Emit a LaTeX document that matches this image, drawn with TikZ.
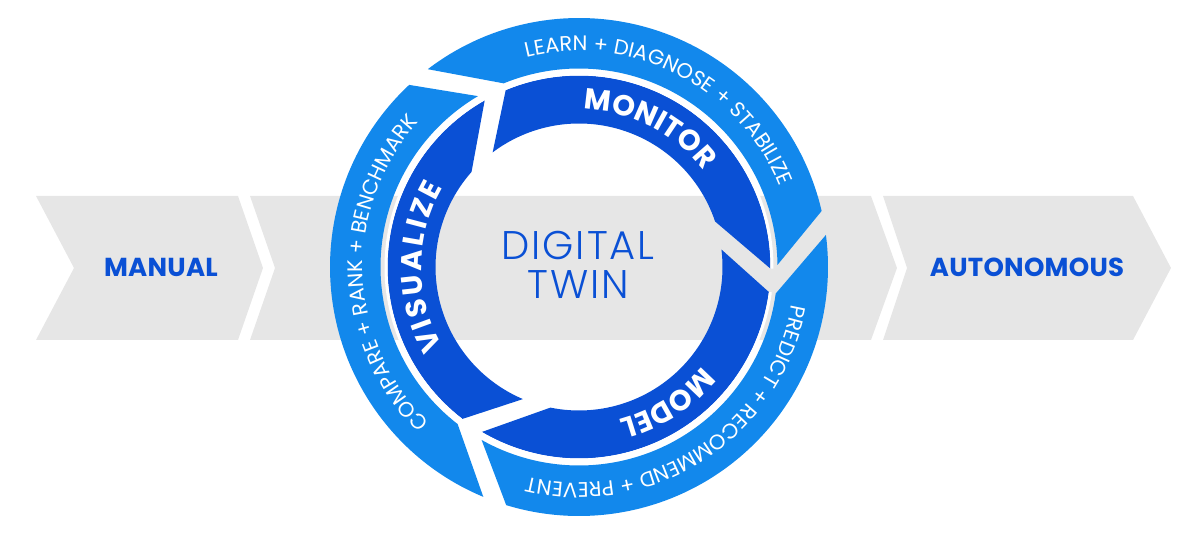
\documentclass[tikz,border=0pt]{standalone}
\usepackage{fontspec}
\setmainfont{Poppins}
\newfontfamily\twinfont[LetterSpace=5]{Poppins Light}
\newfontfamily\endfont[LetterSpace=1]{Poppins}
\usetikzlibrary{decorations.text}
\definecolor{ringlight}{HTML}{1288EC}
\definecolor{ringdark}{HTML}{0A50D5}
\definecolor{bandgray}{HTML}{E6E6E6}

\begin{document}
\begin{tikzpicture}[x=1pt,y=1pt,
    chevron/.style={fill=bandgray},
    lightband/.style={fill=ringlight},
    darkband/.style={fill=ringdark},
    outerlabel/.style={decorate,decoration={text along path,text align=center,text color=white,
        text={|\fontsize{21}{21}\selectfont|#1}}},
    innerlabel/.style={decorate,decoration={text along path,text align=center,text color=white,
        text={|\bfseries\fontsize{29}{29}\selectfont|#1}}},
    stage/.style={text=ringdark,font=\endfont\bfseries\fontsize{26}{26}\selectfont,anchor=base}]
                        \useasboundingbox (0,0) rectangle (1200,546);
                        \foreach \xa/\xn/\xb/\xt in {36/74/238/263,250/275/871/897,883/907/1133/1171}
                            \fill[chevron] (\xa,350) -- (\xb,350) -- (\xt,278) -- (\xb,206) -- (\xa,206) -- (\xn,278) -- cycle;
                        \node[stage] (manual) at (161,269) {MANUAL};
                        \node[stage] (autonomous) at (1027,269) {AUTONOMOUS};
                        \coordinate (hub) at (579,279);
                        \begin{scope}[shift={(hub)}]
                            \foreach \k in {0,1,2}{
                                \begin{scope}[rotate=-120*\k]
                                    \fill[lightband] (127.4:249) arc[start angle=127.4,end angle=13,radius=249]
                                        -- (0.6:198.5) arc[start angle=0.6,end angle=112.3,radius=198.5] -- cycle;
                                    \fill[darkband] (112.5:191.5) arc[start angle=112.5,end angle=-0.5,radius=191.5]
                                        -- (18.5:143.5) arc[start angle=18.5,end angle=127,radius=143.5] -- cycle;
                                    \draw[white,line width=3] (112.5:193) arc[start angle=112.5,end angle=-0.5,radius=193];
                                \end{scope}
                            }
                            \path[outerlabel={LEARN + DIAGNOSE + STABILIZE}] (123:216) arc[start angle=123,end angle=3,radius=216];
                            \path[outerlabel={PREDICT + RECOMMEND + PREVENT}] (3:216) arc[start angle=3,end angle=-117,radius=216];
                            \path[outerlabel={COMPARE + RANK + BENCHMARK}] (242:216) arc[start angle=242,end angle=122,radius=216];
                            \path[innerlabel={MONITOR}] (123:157.5) arc[start angle=123,end angle=3,radius=157.5];
                            \path[innerlabel={MODEL}] (3:157.5) arc[start angle=3,end angle=-117,radius=157.5];
                            \path[innerlabel={V{\kern2.8pt}I{\kern2.8pt}S{\kern2.8pt}U{\kern2.8pt}A{\kern2.8pt}L{\kern2.8pt}I{\kern2.8pt}Z{\kern2.8pt}E}]
                                (240:157.5) arc[start angle=240,end angle=120,radius=157.5];
                        \end{scope}
                        \node[text=ringdark,font=\twinfont\fontsize{40}{40}\selectfont,anchor=base] (digital) at (578,286) {DIGITAL};
                        \node[text=ringdark,font=\twinfont\fontsize{40}{40}\selectfont,anchor=base] (twin) at (578,247) {TWIN};
                \end{tikzpicture}
\end{document}
